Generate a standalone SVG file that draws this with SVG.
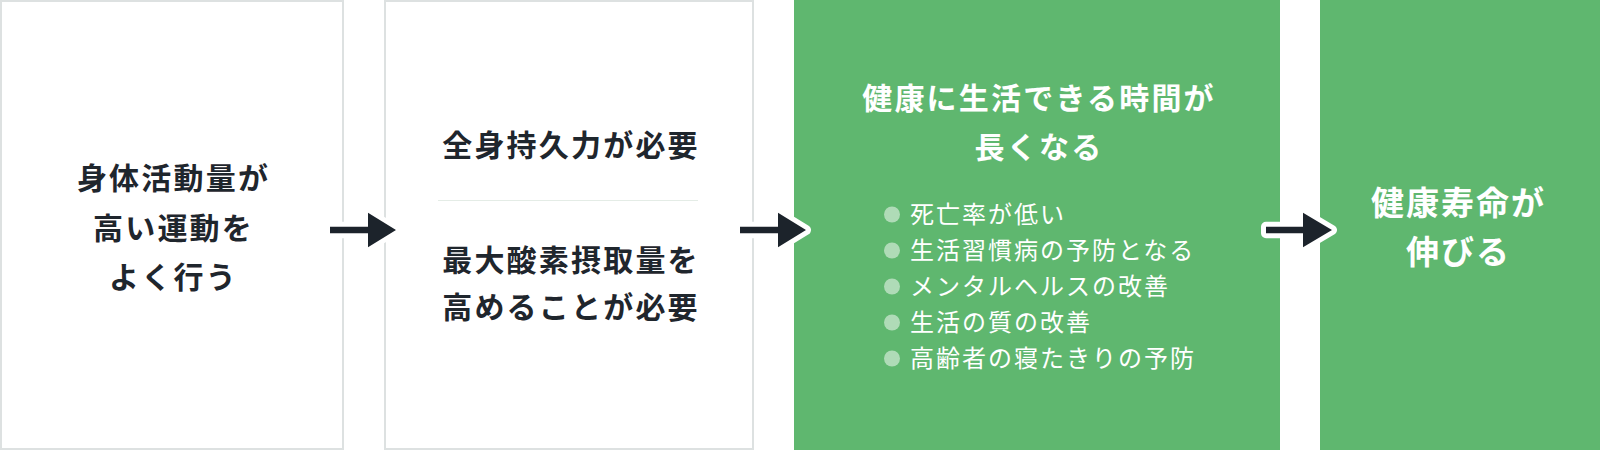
<svg xmlns="http://www.w3.org/2000/svg" width="1600" height="450" viewBox="0 0 1600 450">
<style>
.box{fill:#ffffff;stroke:#dde1e1;stroke-width:2}
.green{fill:#5fb76f}
.t{font-family:"Noto Sans CJK JP","Noto Sans CJK SC",sans-serif;font-weight:700;font-size:30px;letter-spacing:2.2px;text-anchor:middle}
.dark{fill:#1f262d}
.light{fill:#ffffff}
.big{font-size:33px;letter-spacing:2px}
.item{font-family:"Noto Sans CJK JP","Noto Sans CJK SC",sans-serif;font-weight:400;font-size:24px;letter-spacing:2px;fill:#ffffff}
.bullet{fill:#ffffff;fill-opacity:0.5}
.arrow{fill:#1c232b;stroke:#ffffff;stroke-width:10;stroke-linejoin:round;paint-order:stroke}
</style>
<rect x="0" y="0" width="1600" height="450" fill="#ffffff"/>
<g id="node1">
<rect class="box" x="1" y="1" width="342" height="448"/>
<text class="t dark" x="173.5" y="189">身体活動量が</text>
<text class="t dark" x="173.5" y="239">高い運動を</text>
<text class="t dark" x="173.5" y="288">よく行う</text>
</g>
<g id="node2">
<rect class="box" x="385" y="1" width="368" height="448"/>
<text class="t dark" x="571" y="156">全身持久力が必要</text>
<line x1="438" y1="200.5" x2="698" y2="200.5" stroke="#e4ece6" stroke-width="1"/>
<text class="t dark" x="571" y="271">最大酸素摂取量を</text>
<text class="t dark" x="571" y="318">高めることが必要</text>
</g>
<g id="node3">
<rect class="green" x="794" y="0" width="486" height="450"/>
<text class="t light" x="1039" y="109">健康に生活できる時間が</text>
<text class="t light" x="1039" y="158">長くなる</text>
<circle class="bullet" cx="892" cy="214.5" r="8"/>
<text class="item" x="910" y="222.5">死亡率が低い</text>
<circle class="bullet" cx="892" cy="250.5" r="8"/>
<text class="item" x="910" y="258.5">生活習慣病の予防となる</text>
<circle class="bullet" cx="892" cy="286.5" r="8"/>
<text class="item" x="910" y="294.5">メンタルヘルスの改善</text>
<circle class="bullet" cx="892" cy="322.5" r="8"/>
<text class="item" x="910" y="330.5">生活の質の改善</text>
<circle class="bullet" cx="892" cy="358.5" r="8"/>
<text class="item" x="910" y="366.5">高齢者の寝たきりの予防</text>
</g>
<g id="node4">
<rect class="green" x="1320" y="0" width="280" height="450"/>
<text class="t light big" x="1458.5" y="215">健康寿命が</text>
<text class="t light big" x="1458.5" y="264">伸びる</text>
</g>
<g id="connectors">
<path class="arrow" d="M330,226.7 H368 V212.7 L396,230 L368,247.3 V233.3 H330 Z"/>
<path class="arrow" d="M740,226.7 H778 V212.7 L806,230 L778,247.3 V233.3 H740 Z"/>
<path class="arrow" d="M1266,226.7 H1303 V212.7 L1332,230 L1303,247.3 V233.3 H1266 Z"/>
</g>
</svg>
